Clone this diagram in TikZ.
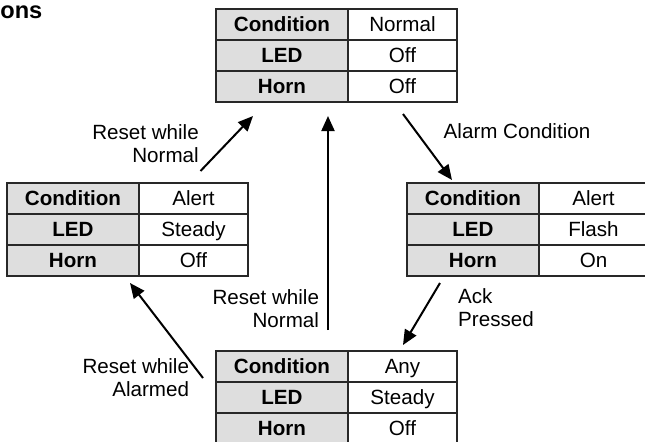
\documentclass[tikz,border=0pt]{standalone}
\usepackage{fontspec}
\setmainfont{Liberation Sans}
\usetikzlibrary{positioning, calc, arrows.meta}
\definecolor{cellgray}{RGB}{222,222,222}
\definecolor{rule}{RGB}{40,40,40}

\tikzset{
  cell/.style={rectangle, draw=rule, line width=0.6pt, minimum height=15.5pt, inner sep=0pt, outer sep=0pt,
    text height=0.72em, text depth=0.04em, font=\fontsize{10.3}{12}\selectfont},
  keycell/.style={cell, fill=cellgray, minimum width=66pt, font=\fontsize{10.3}{12}\selectfont\bfseries},
  valcell/.style={cell, fill=white, minimum width=54.5pt},
  arr/.style={-{Triangle[length=7.5pt,width=6.5pt]}, line width=1pt},
  lbl/.style={inner sep=0pt, font=\fontsize{10.3}{11.5}\selectfont}
}

\begin{document}
\begin{tikzpicture}[x=0.5pt, y=-0.5pt]
  \clip (0,0) rectangle (645,441);

  \node[inner sep=0pt, anchor=base west, font=\fontsize{11.8}{14}\selectfont\bfseries] (title) at (0,18) {ons};

  % normal
  \node[keycell, anchor=north west] (normC) at (216,9) {Condition};
  \node[valcell, right=0pt of normC] (normCv) {Normal};
  \node[keycell, below=0pt of normC] (normL) {LED};
  \node[valcell, right=0pt of normL] (normLv) {Off};
  \node[keycell, below=0pt of normL] (normH) {Horn};
  \node[valcell, right=0pt of normH] (normHv) {Off};

  % alert, flashing
  \node[keycell, anchor=north west] (flashC) at (407,183) {Condition};
  \node[valcell, right=0pt of flashC] (flashCv) {Alert};
  \node[keycell, below=0pt of flashC] (flashL) {LED};
  \node[valcell, right=0pt of flashL] (flashLv) {Flash};
  \node[keycell, below=0pt of flashL] (flashH) {Horn};
  \node[valcell, right=0pt of flashH] (flashHv) {On};

  % alert, steady
  \node[keycell, anchor=north west] (steadyC) at (7,183) {Condition};
  \node[valcell, right=0pt of steadyC] (steadyCv) {Alert};
  \node[keycell, below=0pt of steadyC] (steadyL) {LED};
  \node[valcell, right=0pt of steadyL] (steadyLv) {Steady};
  \node[keycell, below=0pt of steadyL] (steadyH) {Horn};
  \node[valcell, right=0pt of steadyH] (steadyHv) {Off};

  % acknowledged
  \node[keycell, anchor=north west] (ackC) at (216,351) {Condition};
  \node[valcell, right=0pt of ackC] (ackCv) {Any};
  \node[keycell, below=0pt of ackC] (ackL) {LED};
  \node[valcell, right=0pt of ackL] (ackLv) {Steady};
  \node[keycell, below=0pt of ackL] (ackH) {Horn};
  \node[valcell, right=0pt of ackH] (ackHv) {Off};

  % transitions
  \draw[arr] ($(steadyCv.north)+(7,-12)$) -- ($(normH.south)+(-29,14)$)
    node[lbl, pos=0.5, anchor=east, align=right, xshift=-13.5pt] (l1) {Reset while\\Normal};
  \draw[arr] ($(ackC.north)+(46,-21)$) -- ($(normH.south)+(46,14)$)
    node[lbl, pos=0.1, anchor=east, align=right, xshift=-4pt] (l2) {Reset while\\Normal};
  \draw[arr] ($(normHv.south)+(0.5,12)$) -- ($(flashC.north)+(-21,-3)$)
    node[lbl, pos=0.26, anchor=west, xshift=13.5pt] (l3) {Alarm Condition};
  \draw[arr] ($(flashH.south)+(-33,7)$) -- ($(ackCv.north)+(0.5,-6)$)
    node[lbl, pos=0.4, anchor=west, align=left, xshift=16pt] (l4) {Ack\\Pressed};
  \draw[arr] ($(ackC.west)+(-13,11.5)$) -- ($(steadyH.south)+(57,7)$)
    node[lbl, pos=0, anchor=east, align=right, xshift=-6.5pt] (l5) {Reset while\\Alarmed};
\end{tikzpicture}
\end{document}
